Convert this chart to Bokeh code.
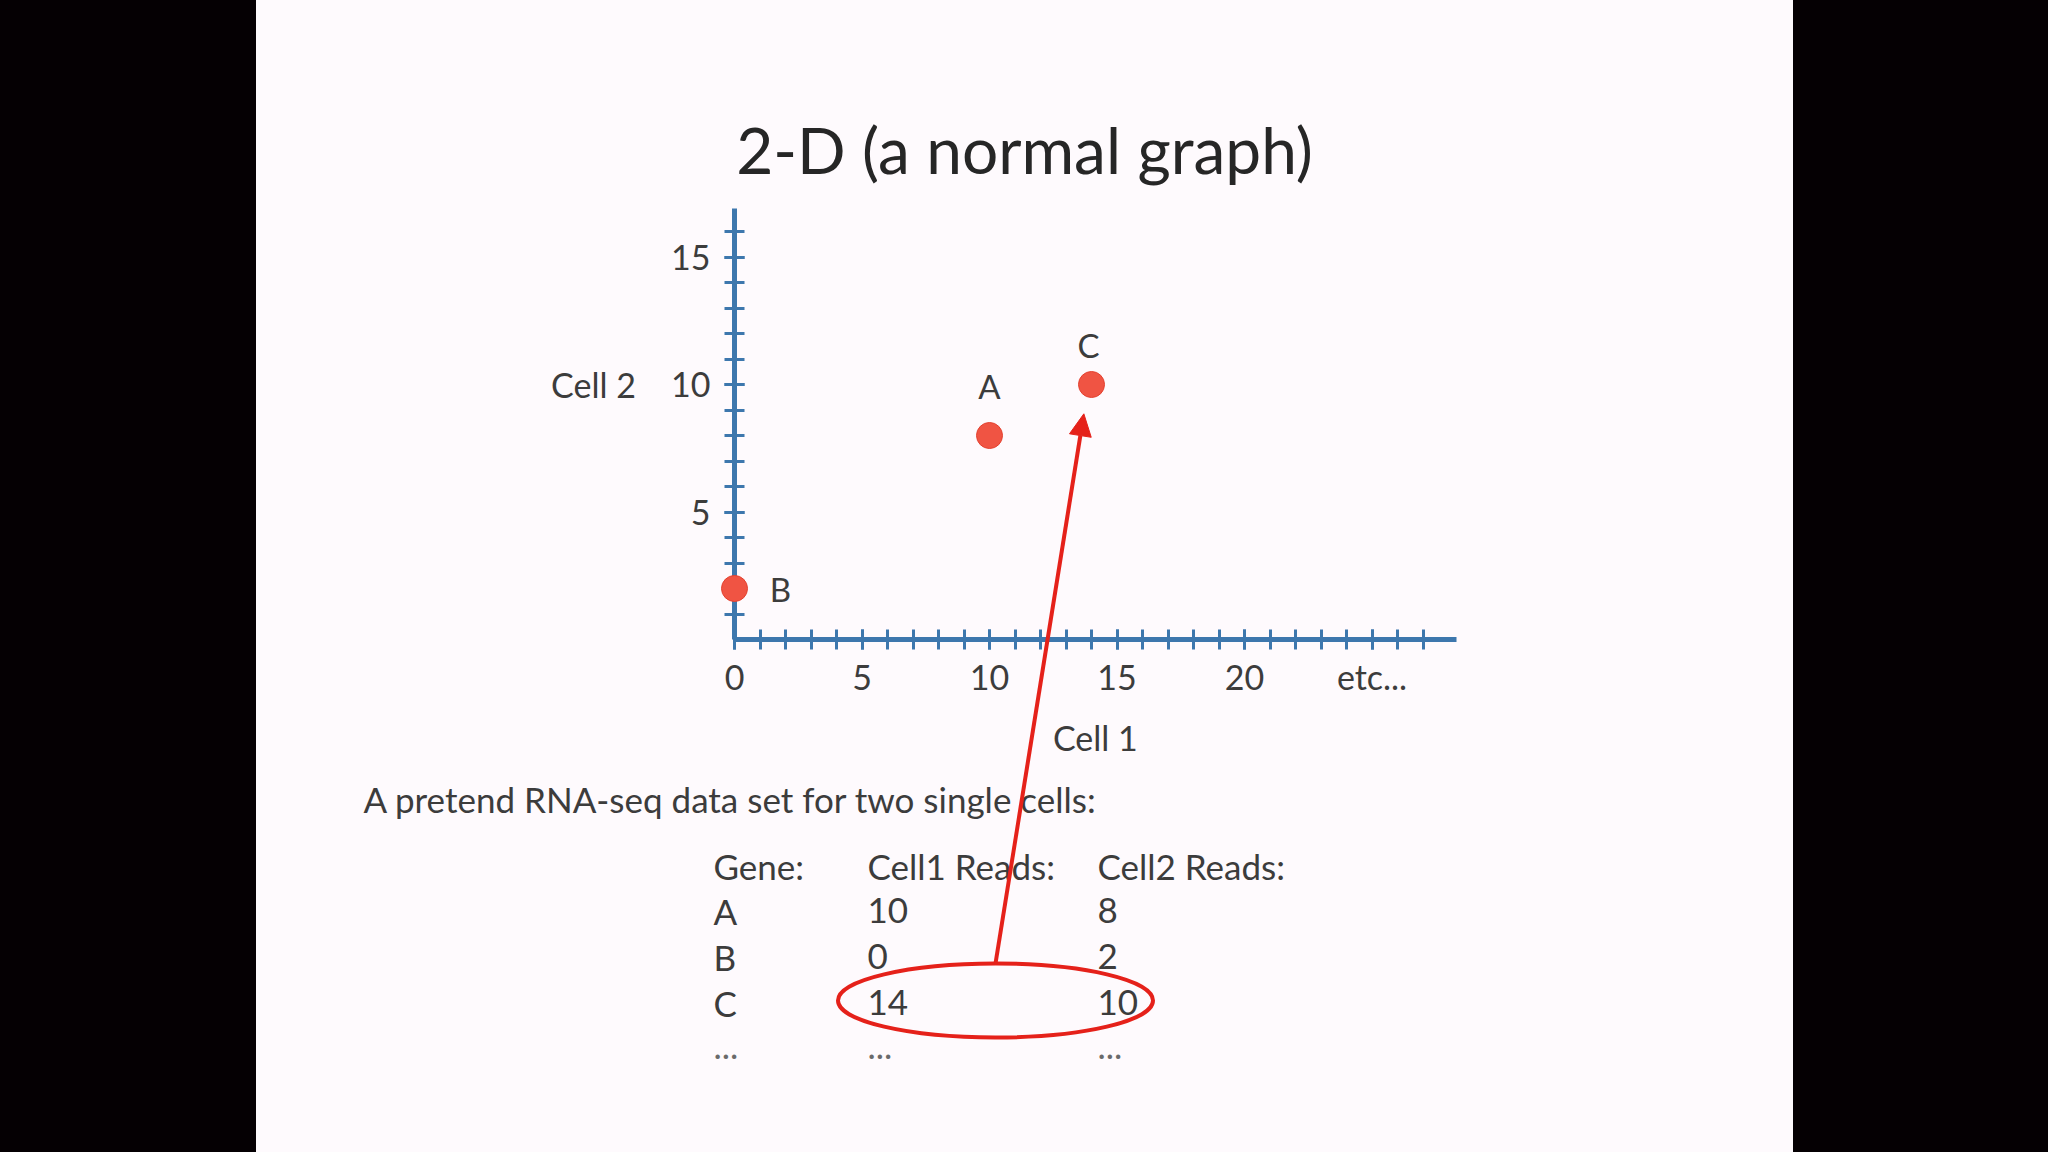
from bokeh.plotting import figure
from bokeh.models import (Range1d, FixedTicker, LinearAxis, Label, Arrow,
                          NormalHead, Spacer, ColumnDataSource)
from bokeh.layouts import row
from bokeh.embed import file_html
from bokeh.resources import INLINE
from bokeh.core.properties import value

# ---------------- data ----------------
genes = ["A", "B", "C"]
cell1_reads = [10, 0, 14]
cell2_reads = [8, 2, 10]
x_tick_values = [0, 5, 10, 15, 20, 25]
x_tick_last_label = "etc..."
y_tick_values = [5, 10, 15]
x_minor_ticks = list(range(0, 28))
y_minor_ticks = list(range(1, 17))
x_axis_max = 28.3
y_axis_max = 16.9
title_text = "2-D (a normal graph)"
x_label = "Cell 1"
y_label = "Cell 2"
caption = "A pretend RNA-seq data set for two single cells:"
table_header = ["Gene:", "Cell1 Reads:", "Cell2 Reads:"]
highlight_gene = "C"

# ---------------- styling / geometry ----------------
SLIDE = "#fefafd"
BLACK = "#050003"
AXIS = "#3d77ad"
TXT = "#3c3c3c"
RED = "#e5211a"
DOT = "#f05443"
FONT = "Lato"

SLIDE_L, SLIDE_R = 256, 1793
PAGE_TOP = 0
FIG_W = SLIDE_R - SLIDE_L
FIG_H = 1152
BORDER_L, BORDER_B = 90, 70
ORIGIN_X, ORIGIN_Y = 734, 639      # page pixel of data (0, 0)
UNIT = 25.5                        # page pixels per data unit

frame_l = SLIDE_L + BORDER_L
frame_r = SLIDE_R
frame_t = PAGE_TOP
frame_b = PAGE_TOP + FIG_H - BORDER_B


def dx(px):
    return (px - ORIGIN_X) / UNIT


def dy(py):
    return (ORIGIN_Y - py) / UNIT


p = figure(width=FIG_W, height=FIG_H, output_backend="svg", toolbar_location=None,
           x_range=Range1d(dx(frame_l), dx(frame_r)),
           y_range=Range1d(dy(frame_b), dy(frame_t)),
           x_axis_type=None, y_axis_type=None,
           min_border_left=BORDER_L, min_border_right=0,
           min_border_top=0, min_border_bottom=BORDER_B,
           background_fill_color=SLIDE, border_fill_color=SLIDE,
           outline_line_color=None)
p.styles = {"background-color": SLIDE}

axis_style = dict(axis_line_color=AXIS, axis_line_width=5,
                  major_tick_line_color=AXIS, major_tick_line_width=3,
                  major_tick_in=10, major_tick_out=10,
                  minor_tick_line_color=AXIS, minor_tick_line_width=3,
                  minor_tick_in=10, minor_tick_out=10,
                  major_label_text_font=FONT, major_label_text_font_size="34px",
                  major_label_text_color=TXT)

xaxis = LinearAxis(ticker=FixedTicker(ticks=x_tick_values, minor_ticks=x_minor_ticks),
                   major_label_overrides={x_tick_values[-1]: x_tick_last_label},
                   fixed_location=0, bounds=(0, x_axis_max),
                   major_label_standoff=6, **axis_style)
yaxis = LinearAxis(ticker=FixedTicker(ticks=y_tick_values, minor_ticks=y_minor_ticks),
                   fixed_location=0, bounds=(0, y_axis_max),
                   major_label_standoff=14, **axis_style)
p.add_layout(xaxis, "below")
p.add_layout(yaxis, "left")

# ---------------- points ----------------
src = ColumnDataSource(dict(gene=genes, x=cell1_reads, y=cell2_reads,
                            xo=[0, 46, -3], yo=[-50, 0, -40]))
p.scatter("x", "y", source=src, size=26, fill_color=DOT, line_color="#e4412f",
          line_width=1, level="overlay")
p.text("x", "y", text="gene", source=src, x_offset="xo", y_offset="yo",
       text_align="center", text_baseline="middle", text_font=value(FONT),
       text_font_size="33px", text_color=TXT)

# ---------------- texts ----------------
p.add_layout(Label(x=dx(1024), y=dy(149), text=title_text, text_align="center",
                   text_baseline="middle", text_font=FONT, text_font_size="64px",
                   text_color="#262626"))
p.add_layout(Label(x=x_axis_max / 2, y=dy(737), text=x_label, text_align="center",
                   text_baseline="middle", text_font=FONT, text_font_size="34px",
                   text_color=TXT))
p.add_layout(Label(x=dx(593), y=10, text=y_label, text_align="center",
                   text_baseline="middle", text_font=FONT, text_font_size="34px",
                   text_color=TXT))
p.add_layout(Label(x=dx(363), y=dy(798), text=caption, text_align="left",
                   text_baseline="middle", text_font=FONT, text_font_size="35px",
                   text_color=TXT))

# ---------------- table ----------------
col_px = [713, 867, 1097]
row_px = [865, 910, 956, 1002, 1046]
rows = [table_header] + [[g, str(a), str(b)] for g, a, b in zip(genes, cell1_reads, cell2_reads)] \
       + [["...", "...", "..."]]
for r, cells in enumerate(rows):
    for c, t in enumerate(cells):
        p.add_layout(Label(x=dx(col_px[c]), y=dy(row_px[r]), text=t,
                           text_align="left", text_baseline="middle",
                           text_font=FONT, text_font_size="35px",
                           text_color=TXT if r < len(rows) - 1 else "#6a6a6a"))

# highlight ellipse around the row of the highlighted gene, arrow to its point
hi = genes.index(highlight_gene)
ell_cx, ell_cy, ell_w, ell_h = 995, row_px[hi + 1] - 2, 315, 74
p.ellipse(x=[dx(ell_cx)], y=[dy(ell_cy)], width=ell_w / UNIT, height=ell_h / UNIT,
          fill_color=None, line_color=RED, line_width=4)
p.add_layout(Arrow(end=NormalHead(size=22, fill_color=RED, line_color=RED),
                   x_start=dx(ell_cx), y_start=dy(ell_cy - ell_h / 2),
                   x_end=cell1_reads[hi] - 0.3, y_end=cell2_reads[hi] - 1.15,
                   line_color=RED, line_width=4))

layout = row(Spacer(width=SLIDE_L, height=FIG_H), p)

html = file_html(layout, INLINE)
style = ("<style>html, body { margin: 0 !important; padding: 0 !important; "
         "background: %s !important; overflow: hidden; }</style>" % BLACK)
idx = html.rfind("</head>")
html = html[:idx] + style + html[idx:]
open("out.html", "w").write(html)
